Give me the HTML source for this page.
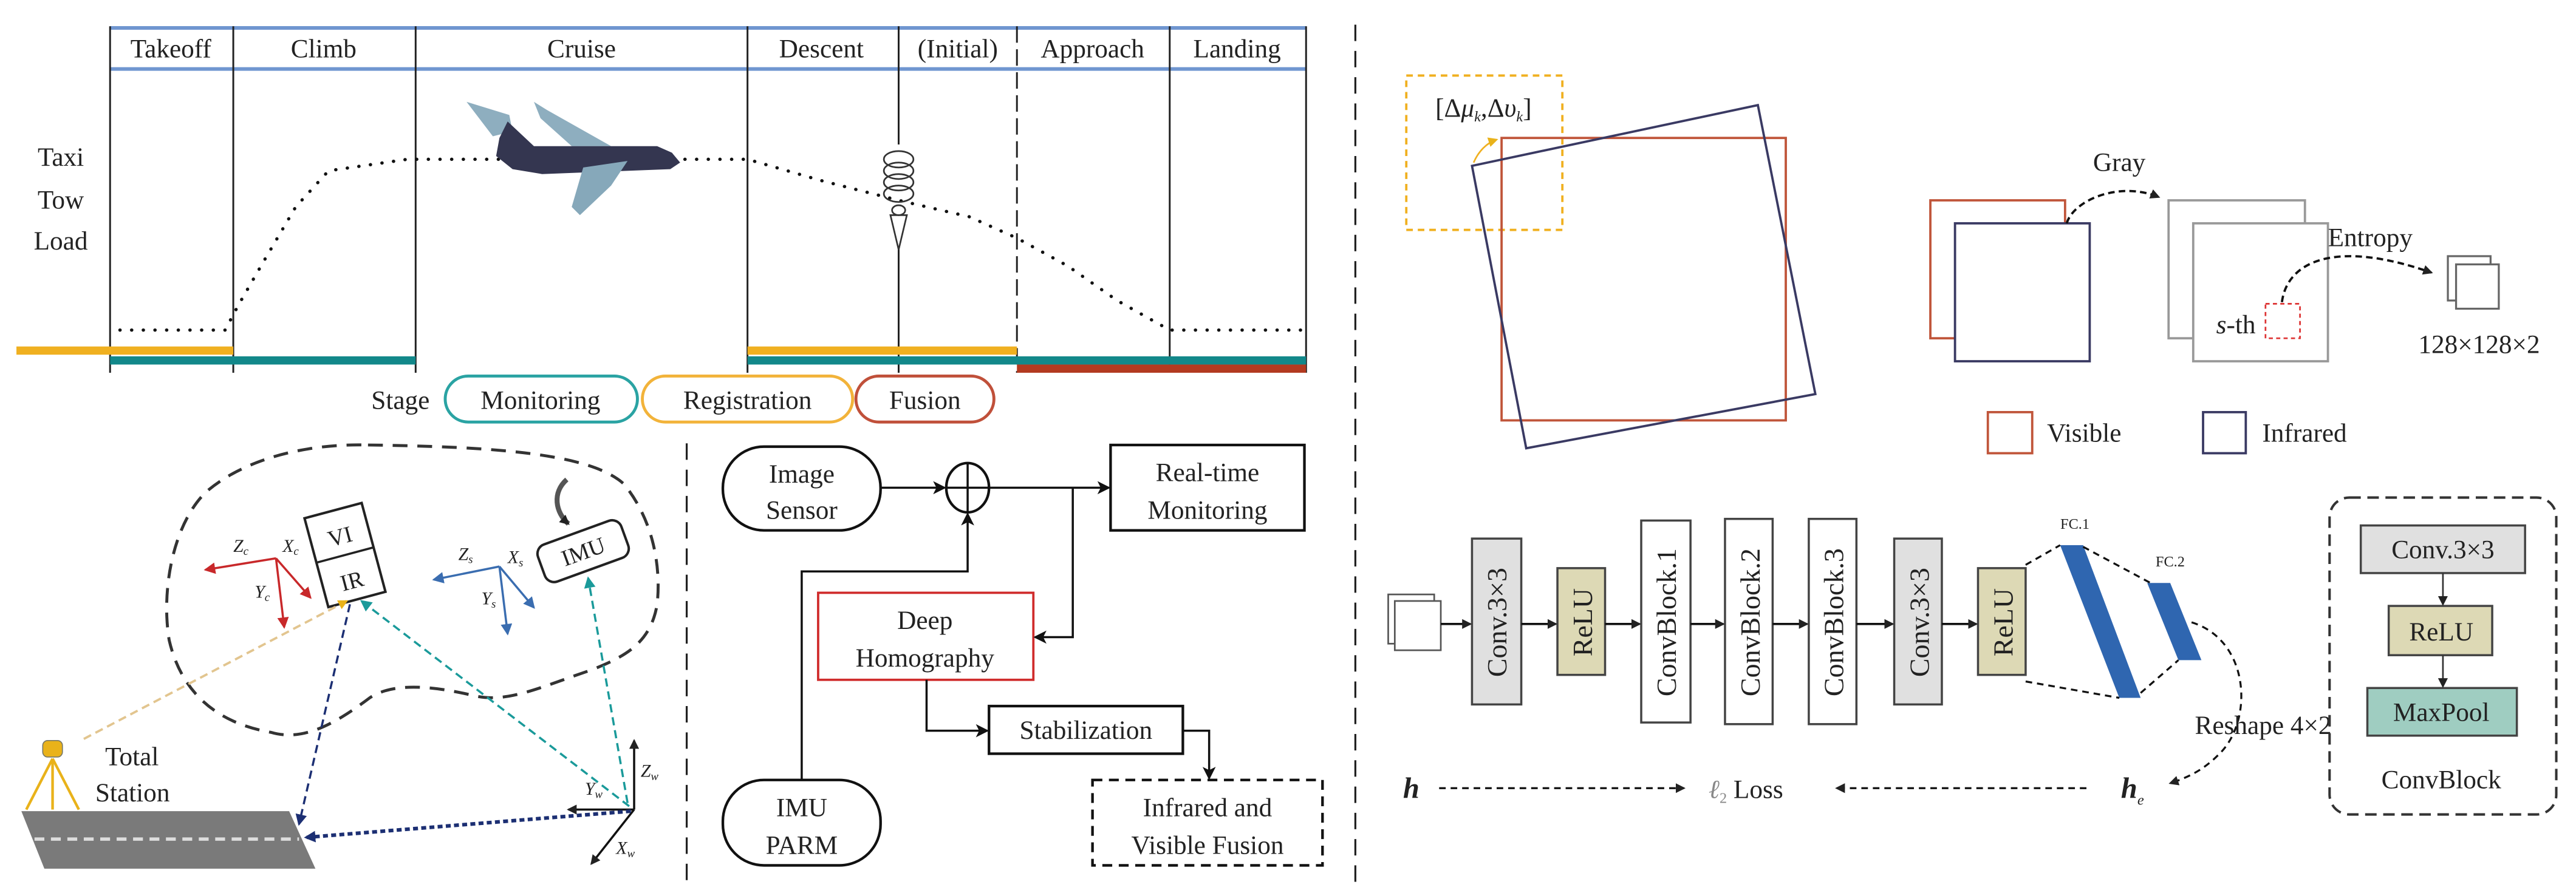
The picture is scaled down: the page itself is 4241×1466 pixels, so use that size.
<!DOCTYPE html>
<html><head><meta charset="utf-8"><style>
html,body{margin:0;padding:0;background:#fff;}
svg{display:block;}
text{font-family:"Liberation Serif",serif;fill:#222;}
</style></head><body>
<svg width="4241" height="1466" viewBox="0 0 1568 542" xmlns="http://www.w3.org/2000/svg">
<defs>
<marker id="a" markerWidth="8" markerHeight="8" refX="7" refY="4" orient="auto" markerUnits="userSpaceOnUse"><path d="M0,0 L8,4 L0,8 L2,4 z" fill="#111"/></marker>
<marker id="as" markerWidth="6" markerHeight="6" refX="5" refY="3" orient="auto" markerUnits="userSpaceOnUse"><path d="M0,0 L6,3 L0,6 z" fill="#222"/></marker>
<marker id="ar" markerWidth="7" markerHeight="7" refX="6" refY="3.5" orient="auto" markerUnits="userSpaceOnUse"><path d="M0,0 L7,3.5 L0,7 z" fill="#c8282a"/></marker>
<marker id="ab" markerWidth="7" markerHeight="7" refX="6" refY="3.5" orient="auto" markerUnits="userSpaceOnUse"><path d="M0,0 L7,3.5 L0,7 z" fill="#3a6db0"/></marker>
<marker id="an" markerWidth="7" markerHeight="7" refX="6" refY="3.5" orient="auto" markerUnits="userSpaceOnUse"><path d="M0,0 L7,3.5 L0,7 z" fill="#1c2f73"/></marker>
<marker id="at" markerWidth="7" markerHeight="7" refX="6" refY="3.5" orient="auto" markerUnits="userSpaceOnUse"><path d="M0,0 L7,3.5 L0,7 z" fill="#1a9a9a"/></marker>
<marker id="ay" markerWidth="6" markerHeight="6" refX="5" refY="3" orient="auto" markerUnits="userSpaceOnUse"><path d="M0,0 L6,3 L0,6 z" fill="#e9b21a"/></marker>
</defs>

<!-- ===== Top-left flight phases ===== -->
<line x1="67" y1="17" x2="795" y2="17" stroke="#7096d0" stroke-width="2.2"/>
<line x1="67" y1="42" x2="795" y2="42" stroke="#7096d0" stroke-width="2.2"/>
<g stroke="#222" stroke-width="1.1">
<line x1="67" y1="16" x2="67" y2="227"/>
<line x1="142" y1="16" x2="142" y2="227"/>
<line x1="253" y1="16" x2="253" y2="227"/>
<line x1="455" y1="16" x2="455" y2="227"/>
<line x1="547" y1="16" x2="547" y2="88"/>
<line x1="547" y1="152" x2="547" y2="227"/>
<line x1="619" y1="16" x2="619" y2="227" stroke-dasharray="10,4"/>
<line x1="712" y1="16" x2="712" y2="227"/>
<line x1="795" y1="16" x2="795" y2="227"/>
</g>
<g font-size="16" text-anchor="middle">
<text x="104" y="35">Takeoff</text><text x="197" y="35">Climb</text><text x="354" y="35">Cruise</text>
<text x="500" y="35">Descent</text><text x="583" y="35">(Initial)</text><text x="665" y="35">Approach</text><text x="753" y="35">Landing</text>
</g>
<g font-size="16" text-anchor="middle"><text x="37" y="101">Taxi</text><text x="37" y="127">Tow</text><text x="37" y="152">Load</text></g>
<polyline points="73,201 137,201 145,186 160,160 180,126 200,104 248,97 455,97 500,110 547,122 590,132 619,145 650,162 680,183 712,201 795,201" fill="none" stroke="#111" stroke-width="2" stroke-dasharray="0.1,7" stroke-linecap="round"/>
<rect x="10" y="211" width="132" height="5" fill="#f0b020"/>
<rect x="455" y="211" width="164" height="5" fill="#f0b020"/>
<rect x="67" y="217" width="186" height="5" fill="#12888a"/>
<rect x="455" y="217" width="340" height="5" fill="#12888a"/>
<rect x="619" y="222" width="176" height="5" fill="#b33a20"/>
<!-- plane -->
<g>
<polygon points="325,62 333,67 372,89 348,89 329,72" fill="#8eaebf"/>
<polygon points="284,62 310,70 312,80 300,83" fill="#8eaebf"/>
<polygon points="309,74 325,89 400,89 409,93 414,99 408,103 330,106 312,103 302,95 304,84" fill="#343650"/>
<polygon points="382,98 355,102 348,126 353,131 372,113" fill="#86a8ba"/>
</g>
<g fill="none" stroke="#333" stroke-width="1">
<ellipse cx="547" cy="97" rx="9" ry="5"/><ellipse cx="547" cy="104" rx="9" ry="5"/><ellipse cx="547" cy="111" rx="9" ry="5"/><ellipse cx="547" cy="118" rx="9" ry="5"/>
<ellipse cx="547" cy="128" rx="4" ry="3"/>
<polygon points="542,131 552,131 547,152"/>
</g>
<text x="226" y="249" font-size="16">Stage</text>
<rect x="271" y="229" width="117" height="28" rx="14" fill="none" stroke="#2aa3a3" stroke-width="1.8"/>
<text x="329" y="249" font-size="16" text-anchor="middle">Monitoring</text>
<rect x="391" y="229" width="128" height="28" rx="14" fill="none" stroke="#f2b33a" stroke-width="1.8"/>
<text x="455" y="249" font-size="16" text-anchor="middle">Registration</text>
<rect x="521" y="229" width="84" height="28" rx="14" fill="none" stroke="#c0503a" stroke-width="1.8"/>
<text x="563" y="249" font-size="16" text-anchor="middle">Fusion</text>

<line x1="418" y1="270" x2="418" y2="540" stroke="#222" stroke-width="1.2" stroke-dasharray="10,6"/>
<line x1="825" y1="15" x2="825" y2="540" stroke="#222" stroke-width="1.2" stroke-dasharray="10,6"/>

<!-- ===== bottom-left scene ===== -->
<path d="M224,271 C300,272 360,276 380,295 C400,320 402,350 400,368 C396,392 380,400 360,408 C330,418 310,428 290,424 C265,418 240,415 225,425 C205,440 185,452 165,446 C130,440 110,420 103,390 C98,360 105,320 125,300 C150,278 190,270 224,271 Z" fill="none" stroke="#333" stroke-width="1.8" stroke-dasharray="9,6"/>
<g transform="rotate(-15 210 338)">
<rect x="192" y="310" width="36" height="56" fill="#fff" stroke="#222" stroke-width="1.5"/>
<line x1="192" y1="338" x2="228" y2="338" stroke="#222" stroke-width="1.3"/>
<text x="210" y="331" font-size="14" text-anchor="middle">VI</text>
<text x="210" y="359" font-size="14" text-anchor="middle">IR</text>
</g>
<g transform="rotate(-20 354 336)">
<rect x="328" y="324" width="54" height="24" rx="6" fill="#fff" stroke="#222" stroke-width="1.5"/>
<text x="355" y="341" font-size="14" text-anchor="middle">IMU</text>
</g>
<path d="M345,292 C336,300 338,312 346,319" fill="none" stroke="#555" stroke-width="3" marker-end="url(#as)"/>
<g stroke="#c8282a" stroke-width="1.3" fill="none">
<line x1="168" y1="340" x2="125" y2="347" marker-end="url(#ar)"/>
<line x1="168" y1="340" x2="173" y2="382" marker-end="url(#ar)"/>
<line x1="168" y1="340" x2="189" y2="364" marker-end="url(#ar)"/>
</g>
<g font-size="11" font-style="italic"><text x="142" y="336" fill="#c8282a">Z<tspan font-size="7" dy="2">c</tspan></text><text x="172" y="336" fill="#c8282a">X<tspan font-size="7" dy="2">c</tspan></text><text x="155" y="364" fill="#c8282a">Y<tspan font-size="7" dy="2">c</tspan></text></g>
<g stroke="#3a6db0" stroke-width="1.3" fill="none">
<line x1="304" y1="345" x2="264" y2="353" marker-end="url(#ab)"/>
<line x1="304" y1="345" x2="309" y2="386" marker-end="url(#ab)"/>
<line x1="304" y1="345" x2="325" y2="370" marker-end="url(#ab)"/>
</g>
<g font-size="11" font-style="italic"><text x="279" y="341" fill="#3a6db0">Z<tspan font-size="7" dy="2">s</tspan></text><text x="309" y="343" fill="#3a6db0">X<tspan font-size="7" dy="2">s</tspan></text><text x="293" y="368" fill="#3a6db0">Y<tspan font-size="7" dy="2">s</tspan></text></g>
<polygon points="13,494 176,494 192,529 27,529" fill="#7a7a7a"/>
<line x1="21" y1="511" x2="182" y2="511" stroke="#ddd" stroke-width="2" stroke-dasharray="6,4"/>
<rect x="26" y="451" width="12" height="10" rx="3" fill="#e9b21a" stroke="#776" stroke-width="0.6"/>
<g stroke="#e9b21a" stroke-width="1.6"><line x1="32" y1="462" x2="16" y2="493"/><line x1="32" y1="462" x2="48" y2="493"/><line x1="32" y1="462" x2="32" y2="493"/></g>
<text x="64" y="466" font-size="16">Total</text>
<text x="58" y="488" font-size="16">Station</text>
<g stroke="#111" stroke-width="1.3">
<line x1="386" y1="493" x2="386" y2="451" marker-end="url(#as)"/>
<line x1="386" y1="493" x2="346" y2="493" marker-end="url(#as)"/>
<line x1="386" y1="493" x2="360" y2="526" marker-end="url(#as)"/>
</g>
<g font-size="11" font-style="italic"><text x="390" y="473">Z<tspan font-size="7" dy="2">w</tspan></text><text x="356" y="484">Y<tspan font-size="7" dy="2">w</tspan></text><text x="375" y="520">X<tspan font-size="7" dy="2">w</tspan></text></g>
<line x1="51" y1="450" x2="211" y2="366" stroke="#e2c58f" stroke-width="1.4" stroke-dasharray="5,3" marker-end="url(#ay)"/>
<line x1="213" y1="368" x2="182" y2="502" stroke="#1c2f73" stroke-width="1.3" stroke-dasharray="5,3" marker-end="url(#an)"/>
<line x1="383" y1="491" x2="220" y2="366" stroke="#1a9a9a" stroke-width="1.3" stroke-dasharray="5,3" marker-end="url(#at)"/>
<line x1="382" y1="489" x2="358" y2="352" stroke="#1a9a9a" stroke-width="1.3" stroke-dasharray="5,3" marker-end="url(#at)"/>
<line x1="384" y1="494" x2="186" y2="510" stroke="#1c2f73" stroke-width="2.2" stroke-dasharray="3,2" marker-end="url(#an)"/>

<!-- ===== flowchart ===== -->
<g stroke="#111" stroke-width="1.6" fill="#fff">
<rect x="440" y="272" width="96" height="51" rx="25"/>
<rect x="676" y="271" width="118" height="52"/>
<rect x="498" y="361" width="131" height="53" stroke="#d02c2c" stroke-width="1.4"/>
<rect x="602" y="430" width="118" height="29"/>
<rect x="440" y="475" width="96" height="52" rx="25"/>
<rect x="665" y="475" width="140" height="52" stroke-dasharray="6,4"/>
<ellipse cx="589" cy="297" rx="13" ry="15" fill="none"/>
</g>
<g stroke="#111" stroke-width="1.3" fill="none">
<line x1="589" y1="282" x2="589" y2="312"/><line x1="576" y1="297" x2="602" y2="297"/>
<line x1="536" y1="297" x2="575" y2="297" marker-end="url(#a)"/>
<line x1="602" y1="297" x2="675" y2="297" marker-end="url(#a)"/>
<polyline points="653,297 653,388 630,388" marker-end="url(#a)"/>
<polyline points="488,475 488,348 589,348 589,313" marker-end="url(#a)"/>
<polyline points="564,414 564,445 601,445" marker-end="url(#a)"/>
<polyline points="720,445 736,445 736,474" marker-end="url(#a)"/>
</g>
<g font-size="16" text-anchor="middle">
<text x="488" y="294">Image</text><text x="488" y="316">Sensor</text>
<text x="735" y="293">Real-time</text><text x="735" y="316">Monitoring</text>
<text x="563" y="383">Deep</text><text x="563" y="406">Homography</text>
<text x="661" y="450">Stabilization</text>
<text x="488" y="497">IMU</text><text x="488" y="520">PARM</text>
<text x="735" y="497">Infrared and</text><text x="735" y="520">Visible Fusion</text>
</g>

<!-- ===== right top ===== -->
<rect x="856" y="46" width="95" height="94" fill="none" stroke="#f0b020" stroke-width="1.4" stroke-dasharray="4,3"/>
<text x="903" y="71" font-size="16" text-anchor="middle">[Δ<tspan font-style="italic">μ</tspan><tspan font-size="9" dy="3" font-style="italic">k</tspan><tspan dy="-3">,Δ</tspan><tspan font-style="italic">υ</tspan><tspan font-size="9" dy="3" font-style="italic">k</tspan><tspan dy="-3">]</tspan></text>
<rect x="914" y="84" width="173" height="172" fill="none" stroke="#c0553a" stroke-width="1.4"/>
<polygon points="896,101 1070,64 1105,240 929,273" fill="none" stroke="#3a3a63" stroke-width="1.4"/>
<path d="M897,99 C900,92 905,87 911,85" fill="none" stroke="#f0b020" stroke-width="1" marker-end="url(#ay)"/>
<rect x="1175" y="122" width="82" height="84" fill="#fff" stroke="#c0553a" stroke-width="1.4"/>
<rect x="1190" y="136" width="82" height="84" fill="#fff" stroke="#3a3a63" stroke-width="1.4"/>
<rect x="1320" y="122" width="83" height="84" fill="#fff" stroke="#999" stroke-width="1.4"/>
<rect x="1335" y="136" width="82" height="84" fill="#fff" stroke="#999" stroke-width="1.4"/>
<path d="M1258,136 C1262,122 1290,110 1314,120" fill="none" stroke="#111" stroke-width="1.4" stroke-dasharray="4,2.5" marker-end="url(#as)"/>
<text x="1290" y="104" font-size="16" text-anchor="middle">Gray</text>
<text x="1417" y="150" font-size="16">Entropy</text>
<text x="1349" y="203" font-size="16"><tspan font-style="italic">s</tspan>-th</text>
<rect x="1379" y="185" width="21" height="21" fill="none" stroke="#d33" stroke-width="1" stroke-dasharray="2.5,2"/>
<path d="M1389,184 C1392,160 1420,145 1480,166" fill="none" stroke="#111" stroke-width="1.4" stroke-dasharray="4,2.5" marker-end="url(#as)"/>
<rect x="1490" y="156" width="26" height="27" fill="#fff" stroke="#666" stroke-width="1.2"/>
<rect x="1495" y="161" width="26" height="27" fill="#fff" stroke="#666" stroke-width="1.2"/>
<text x="1472" y="215" font-size="16">128×128×2</text>
<rect x="1210" y="251" width="27" height="25" fill="none" stroke="#c0553a" stroke-width="1.4"/>
<text x="1246" y="269" font-size="16">Visible</text>
<rect x="1341" y="251" width="26" height="25" fill="none" stroke="#3a3a63" stroke-width="1.4"/>
<text x="1377" y="269" font-size="16">Infrared</text>

<!-- ===== network ===== -->
<rect x="845" y="362" width="28" height="30" fill="#fff" stroke="#555" stroke-width="1"/>
<rect x="849" y="366" width="28" height="30" fill="#fff" stroke="#555" stroke-width="1"/>
<g stroke="#444" stroke-width="1.3">
<rect x="896" y="328" width="30" height="101" fill="#e0e0e0"/>
<rect x="948" y="346" width="29" height="65" fill="#ddd9b5"/>
<rect x="999" y="317" width="30" height="123" fill="#fff"/>
<rect x="1050" y="316" width="29" height="125" fill="#fff"/>
<rect x="1101" y="316" width="29" height="125" fill="#fff"/>
<rect x="1153" y="328" width="29" height="101" fill="#e0e0e0"/>
<rect x="1204" y="346" width="29" height="65" fill="#ddd9b5"/>
</g>
<g stroke="#111" stroke-width="1.3">
<line x1="877" y1="380" x2="895" y2="380" marker-end="url(#as)"/>
<line x1="926" y1="380" x2="947" y2="380" marker-end="url(#as)"/>
<line x1="977" y1="380" x2="998" y2="380" marker-end="url(#as)"/>
<line x1="1029" y1="380" x2="1049" y2="380" marker-end="url(#as)"/>
<line x1="1079" y1="380" x2="1100" y2="380" marker-end="url(#as)"/>
<line x1="1130" y1="380" x2="1152" y2="380" marker-end="url(#as)"/>
<line x1="1182" y1="380" x2="1203" y2="380" marker-end="url(#as)"/>
</g>
<g font-size="17" text-anchor="middle">
<text transform="translate(917 379) rotate(-90)">Conv.3×3</text>
<text transform="translate(969 379) rotate(-90)">ReLU</text>
<text transform="translate(1020 379) rotate(-90)">ConvBlock.1</text>
<text transform="translate(1071 379) rotate(-90)">ConvBlock.2</text>
<text transform="translate(1122 379) rotate(-90)">ConvBlock.3</text>
<text transform="translate(1174 379) rotate(-90)">Conv.3×3</text>
<text transform="translate(1225 379) rotate(-90)">ReLU</text>
</g>
<polygon points="1254,332 1268,332 1303,425 1290,425" fill="#2f66b0"/>
<polygon points="1307,355 1321,355 1340,402 1326,402" fill="#2f66b0"/>
<text x="1263" y="322" font-size="9" text-anchor="middle" fill="#555">FC.1</text>
<text x="1321" y="345" font-size="9" text-anchor="middle" fill="#555">FC.2</text>
<g stroke="#111" stroke-width="1.2" fill="none" stroke-dasharray="4,3">
<line x1="1233" y1="344" x2="1254" y2="332"/>
<line x1="1233" y1="415" x2="1290" y2="425"/>
<line x1="1268" y1="333" x2="1309" y2="355"/>
<line x1="1303" y1="422" x2="1326" y2="402"/>
<path d="M1334,379 C1370,390 1372,440 1350,460 C1340,470 1330,474 1321,477" marker-end="url(#as)"/>
<line x1="876" y1="480" x2="1025" y2="480" marker-end="url(#as)"/>
<line x1="1270" y1="480" x2="1118" y2="480" marker-end="url(#as)"/>
</g>
<text x="1336" y="447" font-size="16">Reshape 4×2</text>
<text x="854" y="486" font-size="18" font-weight="bold" font-style="italic">h</text>
<text x="1040" y="486" font-size="16"><tspan font-style="italic" fill="#888">ℓ</tspan><tspan font-size="9" dy="3" fill="#888">2</tspan><tspan dy="-3"> Loss</tspan></text>
<text x="1291" y="486" font-size="18" font-weight="bold" font-style="italic">h<tspan font-size="9" dy="4" font-weight="normal">e</tspan></text>
<rect x="1418" y="303" width="138" height="193" rx="12" fill="none" stroke="#333" stroke-width="1.5" stroke-dasharray="7,4"/>
<rect x="1437" y="320" width="100" height="29" fill="#e0e0e0" stroke="#444" stroke-width="1.3"/>
<rect x="1454" y="369" width="63" height="30" fill="#ddd9b5" stroke="#444" stroke-width="1.3"/>
<rect x="1441" y="419" width="91" height="29" fill="#9fcdc1" stroke="#444" stroke-width="1.3"/>
<line x1="1487" y1="349" x2="1487" y2="368" stroke="#333" stroke-width="1" marker-end="url(#as)"/>
<line x1="1487" y1="399" x2="1487" y2="418" stroke="#333" stroke-width="1" marker-end="url(#as)"/>
<g font-size="16" text-anchor="middle">
<text x="1487" y="340">Conv.3×3</text><text x="1486" y="390">ReLU</text><text x="1486" y="439">MaxPool</text><text x="1486" y="480">ConvBlock</text>
</g>
</svg>
</body></html>
